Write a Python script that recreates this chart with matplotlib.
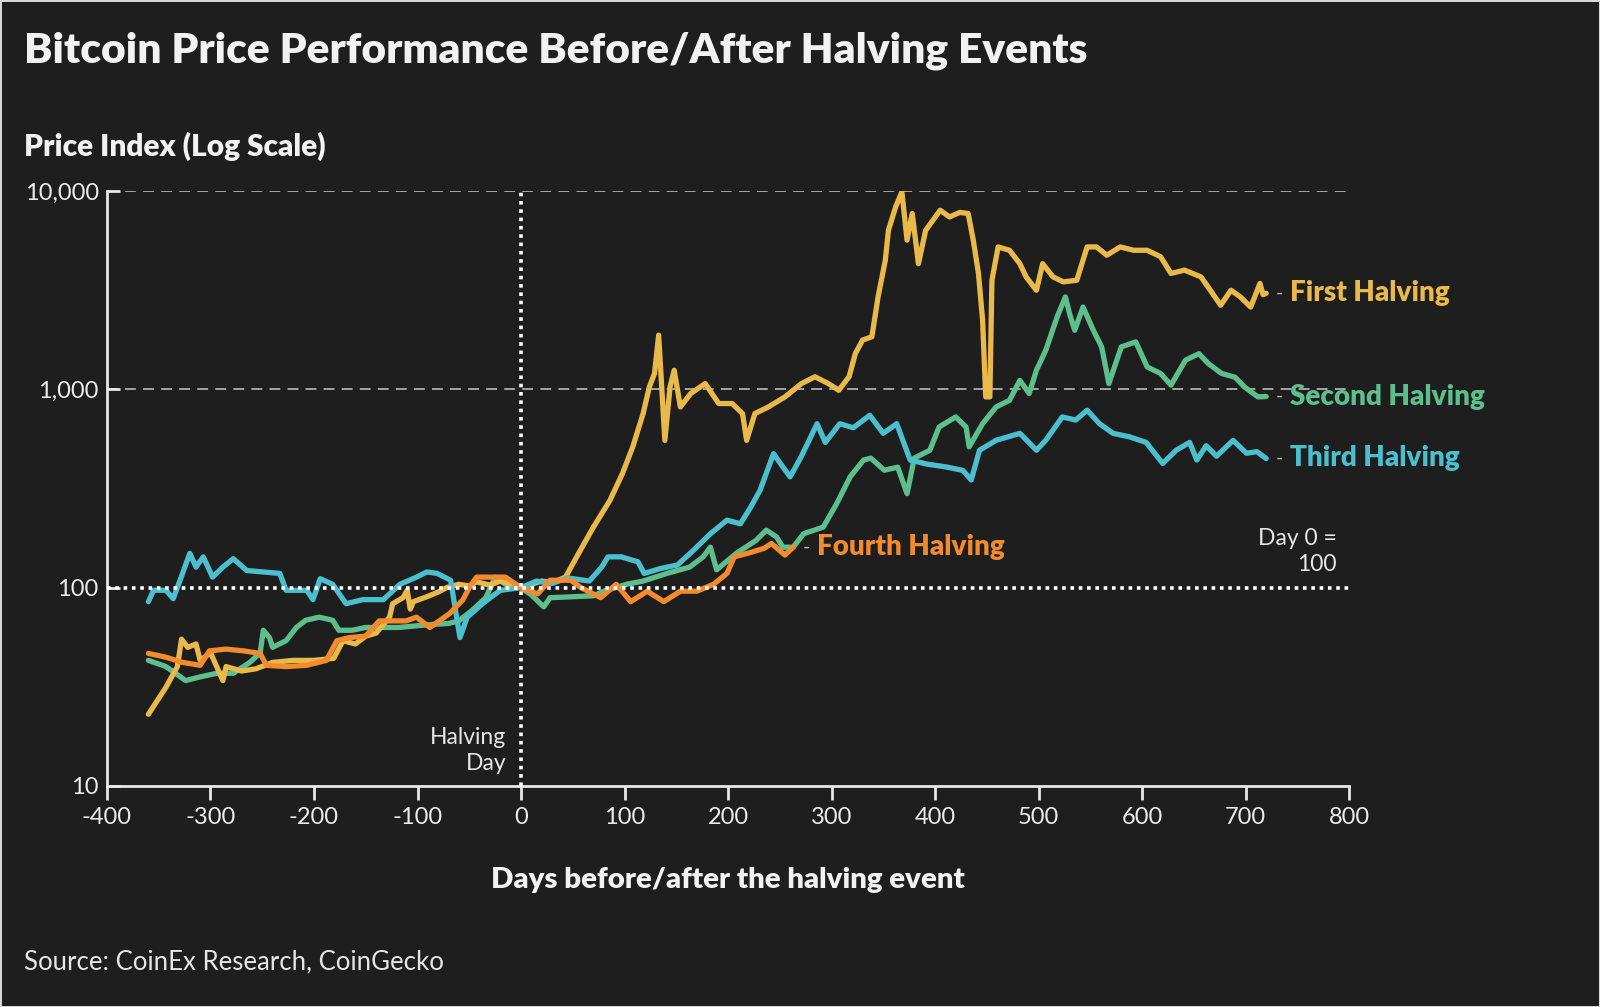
import matplotlib
matplotlib.use("Agg")
import matplotlib.pyplot as plt
from matplotlib.ticker import FixedLocator, FixedFormatter

# ---- data (day offset vs price index, day 0 = 100) ----
first_days = [-360, -343, -332, -328, -322, -314, -310, -300, -288, -285, -270, -256, -240, -220,
              -200, -181, -172, -160, -150, -140, -127, -124, -114, -110, -107, -104, -91, -80,
              -72, -60, -50, -43, -30, -20, -10, 0, 10, 20, 30, 43, 56, 70, 86, 98, 108, 118,
              124, 129, 133, 139, 144, 148, 154, 164, 178, 191, 204, 214, 218, 226, 239, 255,
              271, 284, 297, 307, 317, 323, 330, 339, 345, 352, 355, 362, 368, 373, 378, 384,
              391, 405, 414, 424, 432, 437, 442, 446, 449, 453, 455, 461, 472, 482, 488, 498,
              504, 514, 524, 537, 547, 556, 566, 579, 592, 605, 618, 628, 641, 657, 666, 676,
              686, 695, 705, 714, 717, 720]
first_vals = [23, 31.5, 40, 55, 50, 52, 43, 47, 34, 40, 38, 39, 42, 43, 43, 44, 54, 52, 57, 59, 71,
              83, 89, 97, 78, 85, 90, 95, 100, 104, 102, 107, 103, 108, 104, 100, 104, 108, 106,
              113, 150, 202, 276, 376, 513, 755, 1028, 1202, 1876, 553, 1028, 1248, 815, 953,
              1069, 848, 848, 755, 553, 755, 815, 916, 1069, 1157, 1069, 989, 1157, 1513, 1771,
              1841, 2924, 4478, 6339, 8318, 9900, 5650, 7700, 4300, 6339, 8000, 7400, 7800, 7700,
              5650, 3840, 2228, 916, 916, 3548, 5224, 5025, 4300, 3690, 3160, 4300, 3690, 3480,
              3550, 5224, 5224, 4745, 5224, 5025, 5025, 4660, 3840, 3990, 3690, 3160, 2655, 3160,
              2924, 2600, 3420, 3000, 3050]

second_days = [-360, -343, -324, -310, -294, -278, -262, -252, -249, -243, -240, -227, -217, -208,
               -195, -182, -176, -163, -150, -118, -90, -70, -60, -47, -34, -25, -15, 0, 10, 22,
               28, 50, 70, 80, 102, 118, 141, 163, 176, 183, 189, 208, 227, 237, 247, 253, 263,
               273, 292, 305, 318, 331, 338, 351, 364, 373, 380, 395, 404, 420, 430, 433, 446,
               459, 472, 482, 491, 498, 507, 518, 526, 530, 535, 543, 553, 561, 568, 580, 594,
               605, 618, 628, 642, 655, 664, 677, 690, 699, 712, 720]
second_vals = [43, 40, 34, 35.5, 37, 37, 42, 47, 61, 56, 50, 54, 63, 68.5, 71, 68.5, 61, 61, 63,
               63, 65, 66, 68, 77, 89, 113, 104, 100, 92, 80, 89, 90, 91, 96, 104, 108, 118, 127,
               143, 160, 123, 149, 173, 195, 180, 160, 160, 187, 202, 265, 362, 440, 450, 391, 405,
               298, 450, 493, 646, 726, 646, 513, 671, 815, 880, 1110, 953, 1248, 1573, 2318,
               2924, 2410, 1985, 2600, 1985, 1637, 1069, 1637, 1735, 1297, 1202, 1050, 1403,
               1513, 1350, 1202, 1150, 1028, 916, 920]

third_days = [-360, -355, -343, -336, -327, -320, -314, -307, -298, -288, -278, -265, -249, -233,
              -227, -207, -201, -194, -182, -169, -153, -133, -117, -101, -91, -81, -68, -59,
              -52, -36, -20, 0, 15, 30, 45, 66, 78, 84, 97, 113, 119, 135, 151, 167, 183, 199,
              212, 222, 231, 244, 251, 260, 270, 280, 286, 294, 308, 321, 337, 350, 363, 376,
              392, 411, 427, 435, 443, 459, 482, 498, 507, 523, 536, 547, 559, 572, 588, 604,
              620, 633, 646, 653, 662, 672, 688, 701, 711, 720]
third_vals = [85, 97, 97, 88, 118, 149, 127, 143, 113, 127, 140, 122, 120, 118, 97, 97, 87, 111,
              104, 83, 87, 87, 104, 113, 120, 118, 109, 56, 71, 84, 97, 100, 108, 105, 112, 108,
              127, 143, 143, 135, 118, 125, 130, 155, 187, 219, 210, 255, 310, 474, 420, 362,
              450, 576, 671, 540, 671, 640, 740, 600, 671, 440, 420, 406, 390, 349, 493, 553,
              600, 493, 553, 726, 700, 785, 671, 600, 576, 540, 423, 493, 540, 440, 520, 460,
              553, 476, 485, 448]

fourth_days = [-360, -343, -327, -310, -301, -285, -268, -252, -246, -227, -207, -188, -178, -166,
               -150, -137, -124, -111, -101, -88, -69, -56, -50, -43, -27, -15, 0, 16, 28, 48,
               58, 77, 92, 106, 122, 138, 154, 170, 186, 199, 206, 219, 235, 242, 255, 263]
fourth_vals = [46.6, 44.6, 42, 40.6, 48, 49, 48, 46.6, 40.6, 40, 40.6, 43, 54, 56, 57, 68, 68, 68,
               71, 63, 74, 87, 100, 113, 113, 113, 100, 93, 109, 109, 100, 89, 104, 85, 96, 85,
               96, 96, 104, 118, 143, 149, 158, 167, 146, 160]

series_names = ["First Halving", "Second Halving", "Third Halving", "Fourth Halving"]
series_colors = ["#e9b94a", "#5cbf8d", "#4cbfcf", "#f28a2e"]

y_ticks = [10, 100, 1000, 10000]
y_tick_labels = ["10", "100", "1,000", "10,000"]
x_ticks = list(range(-400, 801, 100))

BG = "#1e1e1e"
FG = "#f2f2f2"
FONT = ["Lato", "DejaVu Sans"]
plt.rcParams["font.family"] = FONT

W, H = 1600, 1007
fig = plt.figure(figsize=(W / 100, H / 100), dpi=100, facecolor=BG)
fig.patch.set_edgecolor("#d8d8d8")
fig.patch.set_linewidth(2)


def fx(x):
    return x / W


def fy(y):
    return 1 - y / H


ax = fig.add_axes([fx(107), fy(786), (1349 - 107) / W, (786 - 191) / H])
ax.set_facecolor(BG)
ax.set_yscale("log")
ax.set_xlim(-400, 800)
ax.set_ylim(10, 10000)

# reference lines
for g in (1000, 10000):
    ax.axhline(g, color="#b0b0b0", lw=1.3, ls=(0, (6, 4)), zorder=1)
ax.axhline(100, color="white", lw=2.6, ls=(0, (1, 1.3)), dash_capstyle="butt", zorder=6)
ax.axvline(0, color="white", lw=2.6, ls=(0, (1, 1.3)), dash_capstyle="butt", zorder=6)

all_days = [first_days, second_days, third_days, fourth_days]
all_vals = [first_vals, second_vals, third_vals, fourth_vals]
for days, vals, color, z in zip(all_days, all_vals, series_colors, [3, 2, 4, 5]):
    ax.plot(days, vals, color=color, lw=3.8, solid_joinstyle="round",
            solid_capstyle="round", zorder=z)

# end-of-line labels: small dash, then the name
for days, vals, name, color in zip(all_days, all_vals, series_names, series_colors):
    ax.annotate("-", xy=(days[-1], vals[-1]), xytext=(7, 0),
                textcoords="offset points", va="center", ha="left",
                color="#bdbdbd", fontsize=14, annotation_clip=False)
    ax.annotate(name, xy=(days[-1], vals[-1]), xytext=(17, 0),
                textcoords="offset points", va="center", ha="left",
                color=color, fontsize=20, fontweight="heavy", annotation_clip=False)

ax.text(-14, 15.1, "Halving\nDay", ha="right", va="center", color="#e6e6e6",
        fontsize=16.5, linespacing=1.3, zorder=7)
ax.text(788, 152, "Day 0 =\n100", ha="right", va="center", color="#e6e6e6",
        fontsize=16.5, linespacing=1.3, zorder=7)

# axes styling
for side in ("top", "right"):
    ax.spines[side].set_visible(False)
for side in ("left", "bottom"):
    ax.spines[side].set_color("#e8e8e8")
    ax.spines[side].set_linewidth(2)

ax.yaxis.set_major_locator(FixedLocator(y_ticks))
ax.yaxis.set_major_formatter(FixedFormatter(y_tick_labels))
ax.yaxis.set_minor_locator(FixedLocator([]))
ax.set_xticks(x_ticks)
ax.set_xticklabels([str(t) for t in x_ticks])
ax.tick_params(axis="y", direction="in", length=9, width=2, color="#e8e8e8",
               labelcolor="#ececec", labelsize=17, pad=6)
ax.tick_params(axis="x", direction="out", length=10, width=2, color="#e8e8e8",
               labelcolor="#ececec", labelsize=17, pad=5)

# titles and notes
fig.text(fx(24), fy(51), "Bitcoin Price Performance Before/After Halving Events",
         color=FG, fontsize=30.6, fontweight="heavy", va="center", ha="left")
fig.text(fx(24), fy(146), "Price Index (Log Scale)", color=FG, fontsize=21.5,
         fontweight="heavy", va="center", ha="left")
fig.text(fx(728), fy(880), "Days before/after the halving event", color=FG, fontsize=21.2,
         fontweight="heavy", va="center", ha="center")
fig.text(fx(24), fy(962), "Source: CoinEx Research, CoinGecko", color="#e6e6e6",
         fontsize=18.5, va="center", ha="left")

fig.savefig("out.png", dpi=100, facecolor=BG, edgecolor=fig.patch.get_edgecolor())
